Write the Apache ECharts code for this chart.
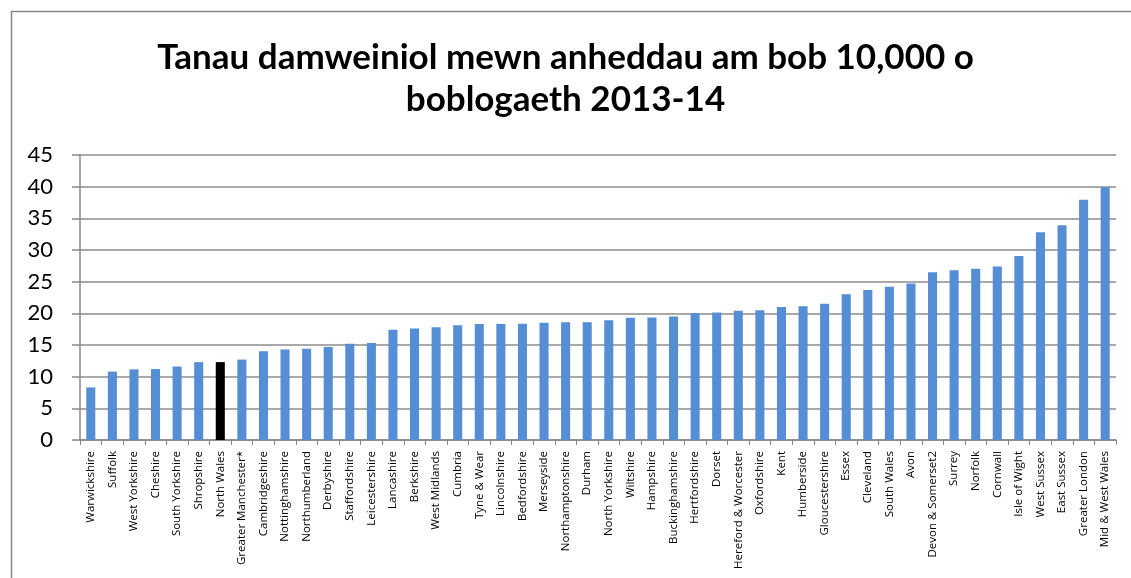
<!DOCTYPE html>
<html>
<head>
<meta charset="utf-8">
<script src="https://cdn.jsdelivr.net/npm/echarts@6/dist/echarts.min.js"></script>
<style>
html,body{margin:0;padding:0;background:#fff;}
#chart{width:1131px;height:578px;}
</style>
</head>
<body>
<div id="chart"></div>
<script>
const categories = ["Warwickshire","Suffolk","West Yorkshire","Cheshire","South Yorkshire","Shropshire","North Wales","Greater Manchester*","Cambridgeshire","Nottinghamshire","Northumberland","Derbyshire","Staffordshire","Leicestershire","Lancashire","Berkshire","West Midlands","Cumbria","Tyne & Wear","Lincolnshire","Bedfordshire","Merseyside","Northamptonshire","Durham","North Yorkshire","Wiltshire","Hampshire","Buckinghamshire","Hertfordshire","Dorset","Hereford & Worcester","Oxfordshire","Kent","Humberside","Gloucestershire","Essex","Cleveland","South Wales","Avon","Devon & Somerset2","Surrey","Norfolk","Cornwall","Isle of Wight","West Sussex","East Sussex","Greater London","Mid & West Wales"];
const values = [8.3,10.8,11.15,11.2,11.6,12.3,12.3,12.7,14.0,14.3,14.4,14.7,15.2,15.3,17.4,17.6,17.8,18.1,18.3,18.3,18.35,18.5,18.6,18.6,18.9,19.3,19.35,19.5,20.0,20.15,20.4,20.5,21.0,21.1,21.5,23.0,23.7,24.2,24.7,26.5,26.8,27.05,27.4,29.05,32.8,33.9,37.95,39.9];
const highlight = "North Wales";
const titleText = "Tanau damweiniol mewn anheddau am bob 10,000 o\nboblogaeth 2013-14";

const chart = echarts.init(document.getElementById('chart'), null, {renderer:'canvas'});
chart.setOption({
  animation:false,
  backgroundColor:'#fff',
  graphic:[{type:'rect',shape:{x:11.5,y:11.5,width:1140,height:600},style:{fill:'none',stroke:'#888',lineWidth:1.5},silent:true}],
  title:{
    text:titleText,
    left:'center',top:32,
    textStyle:{fontFamily:'Lato',fontWeight:'bold',fontSize:35,color:'#000',lineHeight:42}
  },
  grid:{left:80,right:15,top:155,bottom:138,containLabel:false},
  xAxis:{
    type:'category',data:categories,
    axisLine:{lineStyle:{color:'#888',width:1.5}},
    axisTick:{show:true,length:5,lineStyle:{color:'#888'}},
    axisLabel:{rotate:90,interval:0,fontSize:11.5,fontFamily:'Open Sans',color:'#000',margin:11}
  },
  yAxis:{
    type:'value',min:0,max:45,interval:5,
    axisLine:{show:true,lineStyle:{color:'#888',width:1.5}},
    axisTick:{show:true,length:8,lineStyle:{color:'#888',width:1.5}},
    splitLine:{lineStyle:{color:'#8c8c8c',width:1.5}},
    axisLabel:{fontSize:22,fontFamily:'Lato',color:'#000',margin:27}
  },
  series:[{
    type:'bar',
    data:values.map((v,i)=>({value:v,itemStyle:{color:categories[i]===highlight?'#000':'#558ed5'}})),
    barCategoryGap:'58%'
  }]
});
</script>
</body>
</html>
